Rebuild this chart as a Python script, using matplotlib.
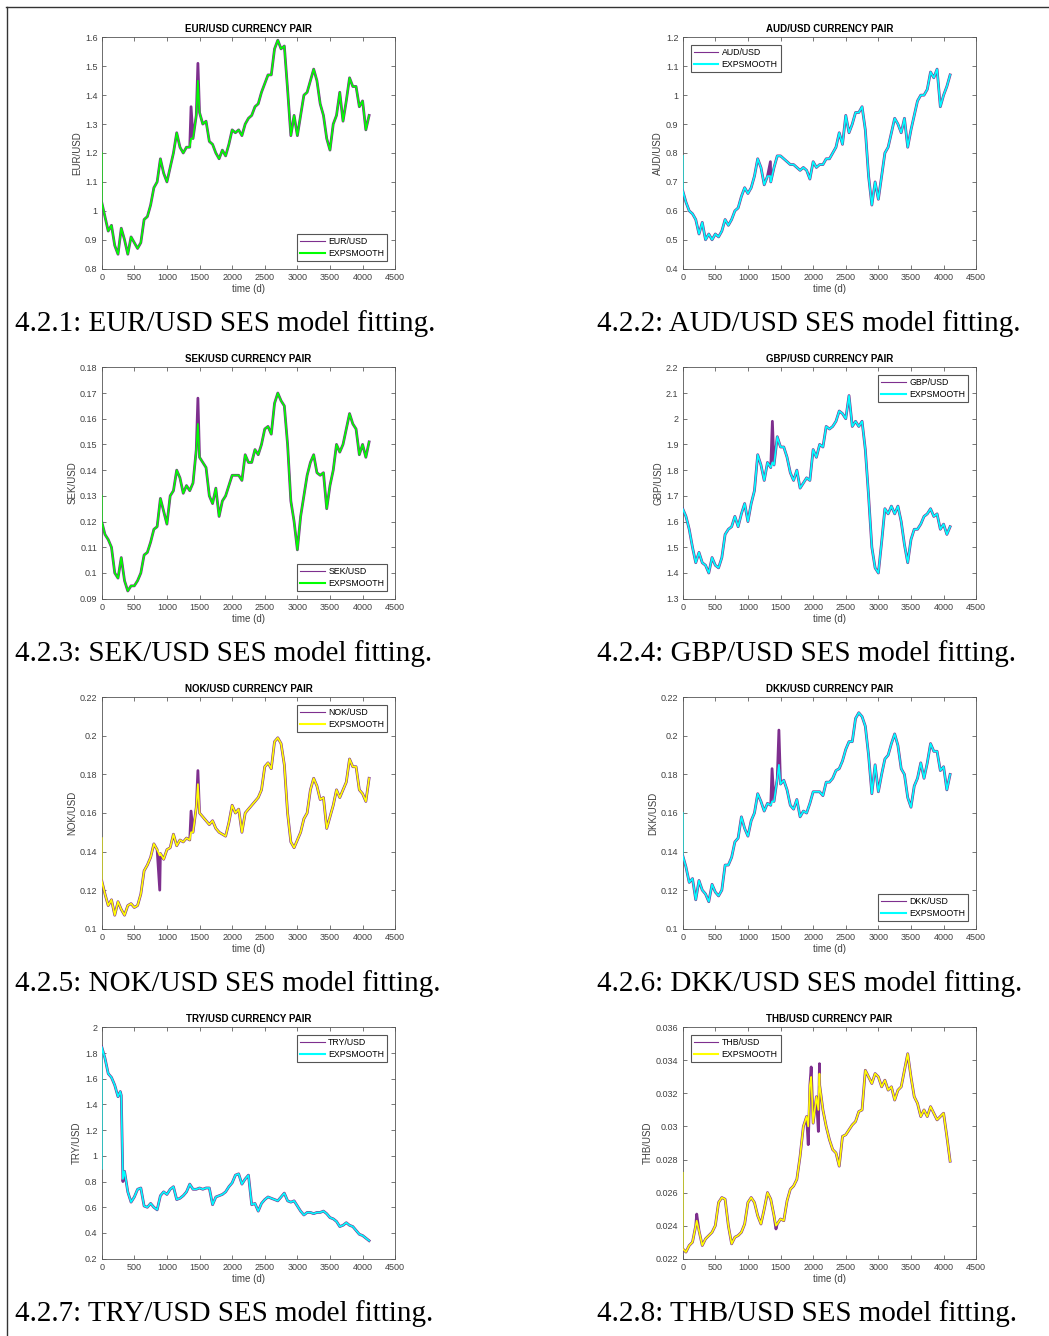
import numpy as np
import matplotlib
matplotlib.use('Agg')
import matplotlib.pyplot as plt
from matplotlib.lines import Line2D
from matplotlib.ticker import FormatStrFormatter

plt.rcParams['font.family'] = ['Liberation Sans', 'DejaVu Sans']

W, H = 1049, 1336

# --- DATA (one value every 50 days) ---
T = np.arange(0, 4101, 50)

eur = [1.03, 0.98, 0.93, 0.95, 0.88, 0.85, 0.94, 0.90, 0.85, 0.91,
       0.89, 0.87, 0.89, 0.97, 0.98, 1.02, 1.08, 1.10, 1.18, 1.13,
       1.10, 1.15, 1.20, 1.27, 1.22, 1.20, 1.22, 1.22, 1.25, 1.33,
       1.34, 1.30, 1.31, 1.24, 1.23, 1.20, 1.18, 1.21, 1.19, 1.23,
       1.28, 1.27, 1.28, 1.26, 1.30, 1.32, 1.33, 1.36, 1.37, 1.41,
       1.44, 1.47, 1.47, 1.56, 1.59, 1.56, 1.57, 1.42, 1.26, 1.33,
       1.26, 1.33, 1.40, 1.41, 1.45, 1.49, 1.45, 1.37, 1.33, 1.25,
       1.21, 1.30, 1.33, 1.41, 1.31, 1.38, 1.46, 1.43, 1.43, 1.36,
       1.38, 1.28, 1.33]
eur_fit0 = 1.20
eur_spk_t = [1370, 1475]
eur_spk_v = [1.36, 1.51]
eur_spk_f = [1.25, 1.45]

aud = [0.67, 0.63, 0.60, 0.59, 0.57, 0.52, 0.56, 0.50, 0.52, 0.50,
       0.52, 0.51, 0.53, 0.57, 0.55, 0.57, 0.60, 0.61, 0.65, 0.68,
       0.66, 0.68, 0.72, 0.78, 0.75, 0.69, 0.72, 0.70, 0.75, 0.79,
       0.79, 0.78, 0.77, 0.76, 0.76, 0.75, 0.74, 0.75, 0.74, 0.71,
       0.77, 0.75, 0.76, 0.76, 0.78, 0.78, 0.80, 0.82, 0.87, 0.83,
       0.93, 0.87, 0.90, 0.94, 0.94, 0.96, 0.88, 0.72, 0.62, 0.70,
       0.64, 0.72, 0.80, 0.82, 0.87, 0.92, 0.90, 0.87, 0.92, 0.82,
       0.88, 0.93, 0.98, 1.00, 1.00, 1.02, 1.08, 1.06, 1.09, 0.96,
       1.00, 1.03, 1.07]
aud_fit0 = 0.79
aud_spk_t = [1345]
aud_spk_v = [0.77]
aud_spk_f = [0.72]

sek = [0.120, 0.115, 0.113, 0.110, 0.100, 0.098, 0.106, 0.097, 0.093, 0.095,
       0.095, 0.097, 0.100, 0.107, 0.108, 0.112, 0.117, 0.118, 0.129, 0.124,
       0.119, 0.130, 0.132, 0.140, 0.137, 0.131, 0.134, 0.132, 0.135, 0.148,
       0.145, 0.143, 0.141, 0.130, 0.127, 0.133, 0.122, 0.128, 0.130, 0.134,
       0.138, 0.138, 0.138, 0.136, 0.146, 0.143, 0.143, 0.148, 0.146, 0.150,
       0.156, 0.157, 0.154, 0.166, 0.170, 0.167, 0.165, 0.150, 0.128, 0.120,
       0.109, 0.122, 0.130, 0.138, 0.143, 0.146, 0.139, 0.138, 0.139, 0.125,
       0.134, 0.140, 0.150, 0.147, 0.150, 0.156, 0.162, 0.158, 0.156, 0.146,
       0.150, 0.145, 0.151]
sek_fit0 = 0.130
sek_spk_t = [1475]
sek_spk_v = [0.168]
sek_spk_f = [0.158]

gbp = [1.65, 1.62, 1.57, 1.50, 1.44, 1.48, 1.44, 1.43, 1.40, 1.46,
       1.43, 1.42, 1.46, 1.55, 1.57, 1.58, 1.62, 1.58, 1.63, 1.67,
       1.60, 1.67, 1.72, 1.86, 1.82, 1.76, 1.83, 1.81, 1.82, 1.93,
       1.89, 1.89, 1.85, 1.79, 1.76, 1.80, 1.73, 1.75, 1.77, 1.76,
       1.88, 1.85, 1.90, 1.89, 1.97, 1.96, 1.97, 1.99, 2.03, 2.02,
       2.00, 2.09, 1.97, 1.99, 1.97, 1.99, 1.88, 1.70, 1.50, 1.42,
       1.40, 1.52, 1.65, 1.63, 1.66, 1.63, 1.66, 1.60, 1.51, 1.44,
       1.53, 1.57, 1.57, 1.59, 1.62, 1.63, 1.65, 1.62, 1.63, 1.57,
       1.59, 1.55, 1.58]
gbp_fit0 = 1.65
gbp_spk_t = [1375]
gbp_spk_v = [1.99]
gbp_spk_f = [1.83]

nok = [0.125, 0.118, 0.112, 0.115, 0.107, 0.114, 0.110, 0.107, 0.112, 0.113,
       0.111, 0.112, 0.118, 0.130, 0.133, 0.137, 0.144, 0.141, 0.139, 0.136,
       0.141, 0.142, 0.149, 0.143, 0.146, 0.145, 0.147, 0.146, 0.150, 0.163,
       0.160, 0.158, 0.156, 0.154, 0.156, 0.152, 0.150, 0.149, 0.148, 0.155,
       0.164, 0.160, 0.162, 0.150, 0.160, 0.162, 0.164, 0.166, 0.168, 0.172,
       0.184, 0.186, 0.183, 0.197, 0.199, 0.196, 0.185, 0.160, 0.145, 0.142,
       0.146, 0.150, 0.157, 0.160, 0.172, 0.178, 0.174, 0.167, 0.168, 0.152,
       0.158, 0.164, 0.172, 0.168, 0.172, 0.176, 0.188, 0.184, 0.184, 0.172,
       0.170, 0.166, 0.178]
nok_fit0 = 0.147
nok_spk_t = [890, 1370, 1475]
nok_spk_v = [0.120, 0.161, 0.182]
nok_spk_f = [0.138, 0.150, 0.175]

dkk = [0.138, 0.132, 0.124, 0.126, 0.115, 0.125, 0.120, 0.118, 0.114, 0.123,
       0.119, 0.117, 0.120, 0.133, 0.133, 0.137, 0.145, 0.147, 0.158, 0.152,
       0.148, 0.156, 0.160, 0.170, 0.166, 0.161, 0.165, 0.164, 0.166, 0.178,
       0.175, 0.177, 0.172, 0.164, 0.162, 0.167, 0.158, 0.161, 0.160, 0.165,
       0.171, 0.171, 0.171, 0.169, 0.176, 0.176, 0.178, 0.182, 0.183, 0.187,
       0.193, 0.197, 0.197, 0.209, 0.212, 0.210, 0.205, 0.190, 0.170, 0.185,
       0.171, 0.180, 0.188, 0.190, 0.196, 0.201, 0.195, 0.183, 0.180, 0.168,
       0.163, 0.174, 0.178, 0.186, 0.178, 0.186, 0.196, 0.192, 0.192, 0.182,
       0.184, 0.172, 0.180]
dkk_fit0 = 0.160
dkk_spk_t = [1370, 1475]
dkk_spk_v = [0.183, 0.203]
dkk_spk_f = [0.166, 0.185]

try_ = [1.85, 1.76, 1.64, 1.61, 1.55, 1.46, 1.47, 0.88, 0.72, 0.64,
        0.68, 0.74, 0.75, 0.61, 0.60, 0.63, 0.60, 0.58, 0.69, 0.72,
        0.70, 0.74, 0.76, 0.66, 0.67, 0.69, 0.72, 0.78, 0.74, 0.74,
        0.75, 0.74, 0.75, 0.75, 0.62, 0.68, 0.69, 0.70, 0.72, 0.76,
        0.79, 0.85, 0.86, 0.78, 0.82, 0.85, 0.62, 0.63, 0.57, 0.63,
        0.66, 0.68, 0.67, 0.66, 0.65, 0.68, 0.71, 0.65, 0.64, 0.65,
        0.61, 0.57, 0.54, 0.56, 0.56, 0.55, 0.56, 0.56, 0.57, 0.55,
        0.52, 0.51, 0.49, 0.45, 0.46, 0.48, 0.46, 0.45, 0.42, 0.39,
        0.38, 0.36, 0.34]
try_fit0 = 0.90
try_spk_t = [285, 325]
try_spk_v = [1.50, 0.80]
try_spk_f = [1.50, 0.82]

thb = [0.0226, 0.0224, 0.0228, 0.0230, 0.0240, 0.0237, 0.0228, 0.0232, 0.0234, 0.0236,
       0.0240, 0.0254, 0.0257, 0.0256, 0.0240, 0.0229, 0.0233, 0.0234, 0.0236, 0.0241,
       0.0254, 0.0257, 0.0254, 0.0246, 0.0241, 0.0250, 0.0260, 0.0256, 0.0246, 0.0241,
       0.0244, 0.0243, 0.0255, 0.0262, 0.0264, 0.0268, 0.0282, 0.0300, 0.0306, 0.0325,
       0.0302, 0.0318, 0.0325, 0.0310, 0.0300, 0.0292, 0.0286, 0.0284, 0.0276, 0.0294,
       0.0295, 0.0298, 0.0301, 0.0303, 0.0309, 0.0310, 0.0334, 0.0330, 0.0326, 0.0332,
       0.0330, 0.0324, 0.0328, 0.0322, 0.0324, 0.0316, 0.0322, 0.0324, 0.0334, 0.0344,
       0.0330, 0.0318, 0.0314, 0.0306, 0.0310, 0.0306, 0.0312, 0.0308, 0.0304, 0.0306,
       0.0308, 0.0294, 0.0279]
thb_fit0 = 0.0272
thb_spk_t = [215, 1430, 1925, 1970, 2080, 2097]
thb_spk_v = [0.0247, 0.0238, 0.0289, 0.0336, 0.0297, 0.0338]
thb_spk_f = [0.0243, 0.0240, 0.0300, 0.0330, 0.0310, 0.0332]

PURPLE = '#7E2F8E'
GREEN = '#00FF00'
CYAN = '#00FFFF'
YELLOW = '#FFFF00'

# name, values, fit start, spikes, fit colour, y ticks, legend loc, caption
panels = [
    ('EUR/USD', eur, eur_fit0, eur_spk_t, eur_spk_v, eur_spk_f, GREEN, (0.8, 1.6, 0.1), 'lower right', '4.2.1'),
    ('AUD/USD', aud, aud_fit0, aud_spk_t, aud_spk_v, aud_spk_f, CYAN, (0.4, 1.2, 0.1), 'upper left', '4.2.2'),
    ('SEK/USD', sek, sek_fit0, sek_spk_t, sek_spk_v, sek_spk_f, GREEN, (0.09, 0.18, 0.01), 'lower right', '4.2.3'),
    ('GBP/USD', gbp, gbp_fit0, gbp_spk_t, gbp_spk_v, gbp_spk_f, CYAN, (1.3, 2.2, 0.1), 'upper right', '4.2.4'),
    ('NOK/USD', nok, nok_fit0, nok_spk_t, nok_spk_v, nok_spk_f, YELLOW, (0.1, 0.22, 0.02), 'upper right', '4.2.5'),
    ('DKK/USD', dkk, dkk_fit0, dkk_spk_t, dkk_spk_v, dkk_spk_f, CYAN, (0.1, 0.22, 0.02), 'lower right', '4.2.6'),
    ('TRY/USD', try_, try_fit0, try_spk_t, try_spk_v, try_spk_f, CYAN, (0.2, 2.0, 0.2), 'upper right', '4.2.7'),
    ('THB/USD', thb, thb_fit0, thb_spk_t, thb_spk_v, thb_spk_f, YELLOW, (0.022, 0.036, 0.002), 'upper left', '4.2.8'),
]

fig = plt.figure(figsize=(W / 100, H / 100), dpi=100)

# page border (left + top only)
fig.add_artist(Line2D([6.5 / W, 6.5 / W], [0, 1 - 7 / H], color='#333333', lw=1, transform=fig.transFigure))
fig.add_artist(Line2D([6 / W, 1], [1 - 7 / H, 1 - 7 / H], color='#333333', lw=1, transform=fig.transFigure))

col_left = [101.7, 682.7]
col_cap = [15, 597]
row_top = [37.3, 367.3, 697.3, 1027.3]
ax_w, ax_h = 293.5, 231.4

for i, (name, vals, fit0, st, sv, sf, fcol, yt, loc, cap) in enumerate(panels):
    r, c = divmod(i, 2)
    ax = fig.add_axes([col_left[c] / W, 1 - (row_top[r] + ax_h) / H, ax_w / W, ax_h / H])

    t = np.concatenate([T, st])
    order = np.argsort(t, kind='stable')
    v = np.concatenate([vals, sv])[order]
    f = np.concatenate([vals, sf])[order]
    t = t[order]

    ax.plot(t, v, color=PURPLE, lw=2.0, label=name, zorder=3)
    ax.plot(np.r_[0, t], np.r_[fit0, f], color=fcol, lw=1.2, label='EXPSMOOTH', zorder=3)

    ax.set_xlim(0, 4500)
    ax.set_xticks(np.arange(0, 4501, 500))
    ax.set_ylim(yt[0], yt[1])
    ax.set_yticks(np.arange(yt[0], yt[1] + yt[2] / 2, yt[2]))
    ax.yaxis.set_major_formatter(FormatStrFormatter('%g'))

    ax.tick_params(direction='in', top=True, right=True, length=3, width=0.5,
                   labelsize=6.5, colors='#404040', pad=3)
    for sp in ax.spines.values():
        sp.set_color('#555555')
        sp.set_linewidth(0.6)

    ax.set_title(f'{name} CURRENCY PAIR', fontsize=7, fontweight='bold', pad=3.5)
    ax.set_ylabel(name, fontsize=7, color='#404040', labelpad=2)
    ax.set_xlabel('time (d)', fontsize=7, color='#404040', labelpad=1.5)

    leg = ax.legend(loc=loc, fontsize=6.3, handlelength=2.8, handletextpad=0.4,
                    borderaxespad=0.9, fancybox=False, edgecolor='#555555',
                    framealpha=1, borderpad=0.35, labelspacing=0.3)
    leg.set_zorder(5)
    leg.get_frame().set_linewidth(0.8)
    leg.get_lines()[0].set_linewidth(0.8)
    leg.get_lines()[1].set_linewidth(1.5)

    fig.text(col_cap[c] / W, 1 - (row_top[r] + 286) / H,
             f'{cap}: {name} SES model fitting.', family='Liberation Serif',
             fontsize=21, va='center', ha='left')

fig.savefig('out.png', dpi=100)
